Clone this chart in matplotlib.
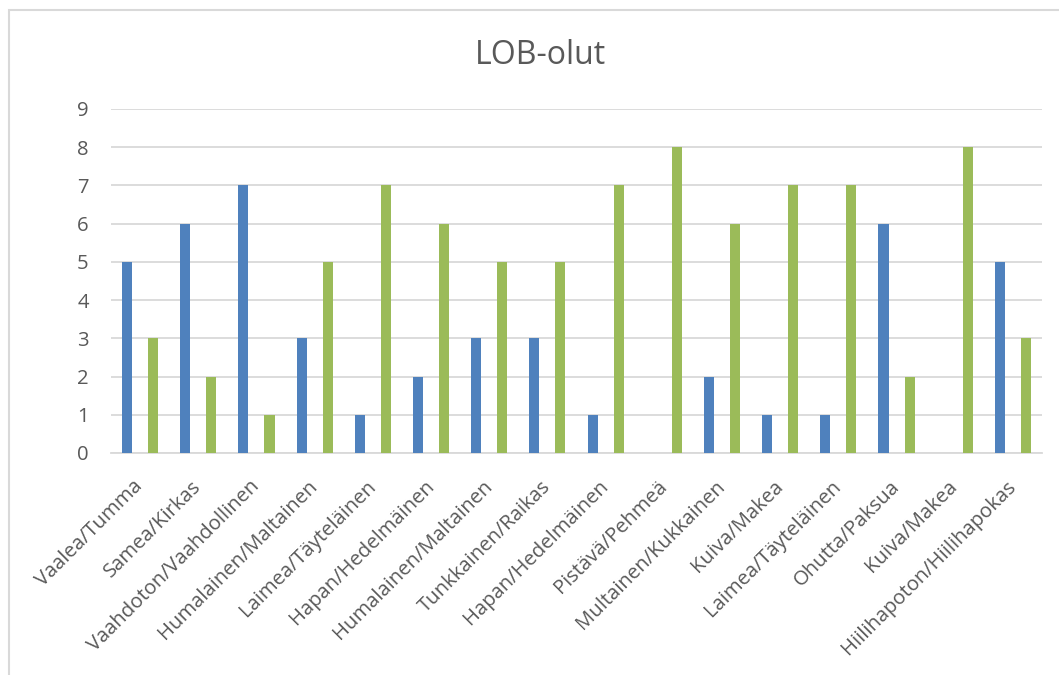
import matplotlib
matplotlib.use("Agg")
import matplotlib.pyplot as plt
import numpy as np
from matplotlib.patches import Rectangle

categories = ["Vaalea/Tumma", "Samea/Kirkas", "Vaahdoton/Vaahdollinen", "Humalainen/Maltainen",
              "Laimea/Täyteläinen", "Hapan/Hedelmäinen", "Humalainen/Maltainen", "Tunkkainen/Raikas",
              "Hapan/Hedelmäinen", "Pistävä/Pehmeä", "Multainen/Kukkainen", "Kuiva/Makea",
              "Laimea/Täyteläinen", "Ohutta/Paksua", "Kuiva/Makea", "Hiilihapoton/Hiilihapokas"]
series_a = [5, 6, 7, 3, 1, 2, 3, 3, 1, 0, 2, 1, 1, 6, 0, 5]
series_b = [3, 2, 1, 5, 7, 6, 5, 5, 7, 8, 6, 7, 7, 2, 8, 3]
yticks = list(range(0, 10))
title = "LOB-olut"

plt.rcParams['font.family'] = ['Open Sans', 'DejaVu Sans']
text_color = "#595959"
grid_color = "#D9D9D9"

fig = plt.figure(figsize=(10.59, 6.75), dpi=100)
ax = fig.add_axes([111/1059, 1-453/675, (1042-111)/1059, (453-109)/675])

x = np.arange(len(categories))
w = 10/58
off = 13/58
ax.bar(x - off, series_a, width=w, color="#4F81BD", zorder=3)
ax.bar(x + off, series_b, width=w, color="#9BBB59", zorder=3)

ax.set_xlim(-0.5, len(categories) - 0.5)
ax.set_ylim(0, 9)
ax.set_yticks(yticks)
ax.yaxis.grid(True, color=grid_color, linewidth=1.3, zorder=0)
ax.set_axisbelow(True)
for s in ["top", "right", "left"]:
    ax.spines[s].set_visible(False)
ax.spines["bottom"].set_color(grid_color)
ax.spines["bottom"].set_linewidth(1.3)
ax.tick_params(axis="both", length=0, colors=text_color, labelsize=14.6)
ax.tick_params(axis="y", pad=16)
ax.tick_params(axis="x", pad=22)
ax.set_xticks(x)
ax.set_xticklabels(categories, rotation=45, ha="right", rotation_mode="anchor", va="center")

fig.text(540/1059, 1-55/675, title, ha="center", va="center", fontsize=23, color=text_color)

fig.patches.append(Rectangle((8.5/1059, -0.1), 1.2, 1.1 - 10.5/675, transform=fig.transFigure,
                             fill=False, edgecolor=grid_color, linewidth=1.5))

fig.savefig("out.png", dpi=100)
